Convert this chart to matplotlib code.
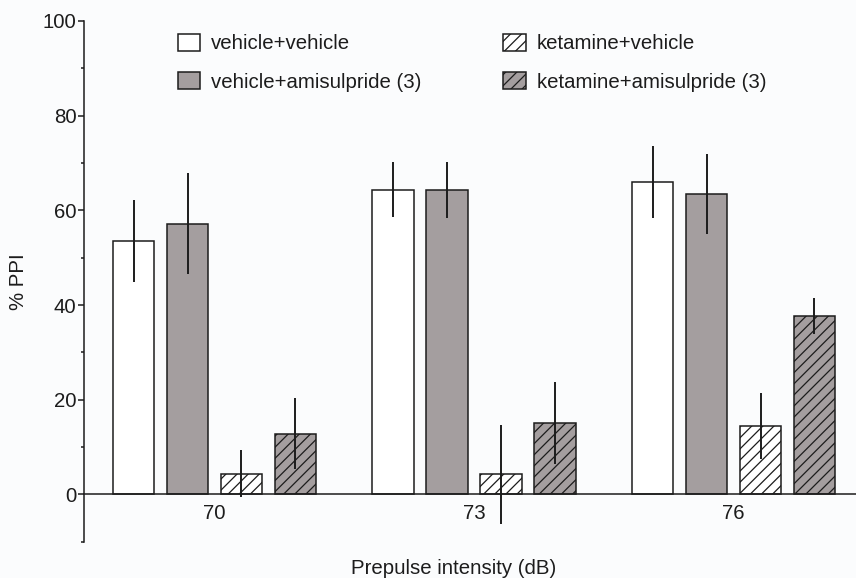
import numpy as np
import matplotlib
matplotlib.use("Agg")
import matplotlib.pyplot as plt
from matplotlib.ticker import MultipleLocator

plt.rcParams['font.family'] = ['Liberation Sans', 'DejaVu Sans']
plt.rcParams['hatch.linewidth'] = 0.9

# data (% PPI, mean and SEM)
intensities = ["70", "73", "76"]
groups = ["vehicle+vehicle", "vehicle+amisulpride (3)",
          "ketamine+vehicle", "ketamine+amisulpride (3)"]
veh_veh = [53.5, 64.4, 65.9]
veh_veh_err = [8.6, 5.8, 7.6]
veh_ami = [57.2, 64.3, 63.5]
veh_ami_err = [10.6, 6.0, 8.5]
ket_veh = [4.4, 4.2, 14.4]
ket_veh_err = [5.0, 10.5, 7.0]
ket_ami = [12.8, 15.1, 37.6]
ket_ami_err = [7.5, 8.6, 3.8]

means = [veh_veh, veh_ami, ket_veh, ket_ami]
errs = [veh_veh_err, veh_ami_err, ket_veh_err, ket_ami_err]
fills = ['white', '#a49e9f', 'white', '#a49e9f']
hatches = [None, None, '///', '///']

ink = '#1c1c1c'
bg = '#fbfcfd'

fig = plt.figure(figsize=(8.56, 5.78), dpi=100, facecolor=bg)
ax = fig.add_axes([0.0981, 0.0628, 0.9019, 0.9009])
ax.set_facecolor(bg)

x = np.arange(len(intensities))
step = 0.208
width = 0.16
for i in range(4):
    pos = x + (i - 1.5) * step
    ax.bar(pos, means[i], width, color=fills[i], edgecolor=ink,
           linewidth=1.1, hatch=hatches[i], label=groups[i], zorder=2)
    ax.errorbar(pos, means[i], yerr=errs[i], fmt='none', ecolor=ink,
                elinewidth=1.4, capsize=0, zorder=3)

ax.set_ylim(-10, 100)
ax.set_xlim(-0.503, 2.472)
ax.spines['top'].set_visible(False)
ax.spines['right'].set_visible(False)
ax.spines['bottom'].set_position(('data', 0))
ax.spines['left'].set_bounds(-10, 100)
for s in ['left', 'bottom']:
    ax.spines[s].set_color(ink)
    ax.spines[s].set_linewidth(1.1)

ax.set_yticks([0, 20, 40, 60, 80, 100])
ax.yaxis.set_minor_locator(MultipleLocator(10))
ax.tick_params(axis='y', which='major', length=4.5, width=1.1, pad=1,
               labelsize=14.7, colors=ink)
ax.tick_params(axis='y', which='minor', length=2.5, width=1.1, colors=ink)
ax.set_xticks(x)
ax.set_xticklabels(intensities)
ax.tick_params(axis='x', length=0, pad=7, labelsize=14.7, colors=ink)

ax.set_ylabel('% PPI', fontsize=14.7, color=ink)
ax.yaxis.set_label_coords(-0.073, 0.5)
ax.set_xlabel('Prepulse intensity (dB)', fontsize=14.7, color=ink)
ax.xaxis.set_label_coords(0.4786, -0.033)

ax.legend(ncol=2, loc='upper left', bbox_to_anchor=(0.108, 0.995),
          frameon=False, fontsize=14.7, handlelength=1.1, handleheight=0.9,
          handletextpad=0.55, columnspacing=4.0, labelspacing=0.92,
          borderpad=0, labelcolor=ink)

fig.savefig('out.png', dpi=100, facecolor=bg)
